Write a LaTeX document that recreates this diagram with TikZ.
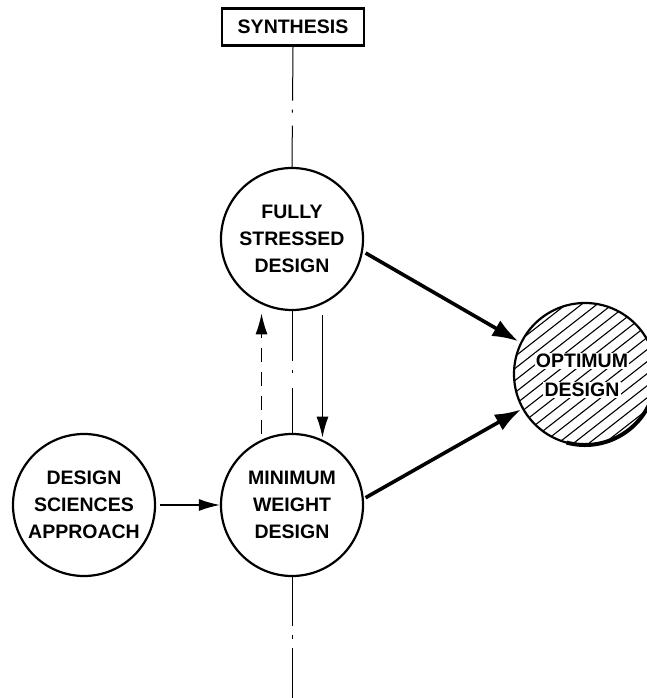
\documentclass[tikz,border=0pt]{standalone}
\usepackage{fontspec}
\setmainfont{Liberation Sans}
\usetikzlibrary{arrows.meta,calc}
\begin{document}
\begin{tikzpicture}[x=1pt,y=1pt,
  lbl/.style={font=\fontsize{19.5}{27}\selectfont\bfseries, align=center},
  bubble/.style={circle, draw, line width=2.2pt, minimum size=142pt, inner sep=0pt, lbl},
  titlebox/.style={rectangle, draw, line width=2.4pt, minimum width=142pt, minimum height=37pt, inner sep=0pt, lbl},
  axisline/.style={line width=1pt},
  thinarrow/.style={line width=1.4pt, -{Latex[length=21pt,width=12pt]}},
  thickarrow/.style={line width=3.6pt, -{Latex[length=26pt,width=18pt]}},
  hatch/.style={line width=1.1pt},
  wordpatch/.style={lbl, fill=white, inner sep=1.2pt}]
\useasboundingbox (0,0) rectangle (646,698);

% nodes
\node[titlebox] (syn) at (293,671) {SYNTHESIS};
\node[bubble] (fsd) at (292,459) {FULLY\\STRESSED\\DESIGN};
\node[bubble] (mwd) at (292,193) {MINIMUM\\WEIGHT\\DESIGN};
\node[bubble] (dsa) at (84,193) {DESIGN\\SCIENCES\\APPROACH};
\node[circle, minimum size=142pt, inner sep=0pt] (opt) at (585,324) {};
\coordinate (axisend) at (292,0);

% hatched optimum region
\begin{scope}
  \clip (opt.center) circle (71pt);
  \begin{scope}[shift={(opt.center)}, rotate=38]
    \foreach \k in {-9,...,9}
      \draw[hatch] (-95,\k*9.5) -- (95,\k*9.5);
  \end{scope}
\end{scope}
\draw[line width=2.2pt] (opt.center) circle (71pt);
\draw[line width=4pt] (opt.center) ++(-105:71pt) arc[start angle=-105, end angle=-15, radius=71pt];
\node[wordpatch, anchor=base] (optA) at ($(opt.center)+(-3,6)$) {OPTIMUM};
\node[wordpatch, anchor=base] (optB) at ($(opt.center)+(-3,-23)$) {DESIGN};

% vertical synthesis axis
\draw[axisline, dash pattern=on 54pt off 9pt on 3pt off 13pt on 80pt] (syn.south) -- (fsd.north);
\draw[axisline, dash pattern=on 50pt off 9pt on 3pt off 15pt on 80pt] (fsd.south) -- (mwd.north);
\draw[axisline, dash pattern=on 49pt off 9pt on 4pt off 9pt on 80pt] (mwd.south) -- (axisend);

% iteration loop between the two design stages
\draw[thinarrow, dash pattern=on 14pt off 10pt, shorten <=6pt, shorten >=9pt] (mwd.115) -- (fsd.-115);
\draw[thinarrow, shorten <=11pt, shorten >=2pt] (fsd.-65) -- (mwd.65);

% feeds
\draw[thinarrow, shorten <=4pt] (dsa.east) -- (mwd.west);
\draw[thickarrow, shorten <=3pt, shorten >=3pt] (fsd.-10) -- (opt.154);
\draw[thickarrow, shorten <=2pt, shorten >=2pt] (mwd.5) -- (opt.209);
\end{tikzpicture}
\end{document}
